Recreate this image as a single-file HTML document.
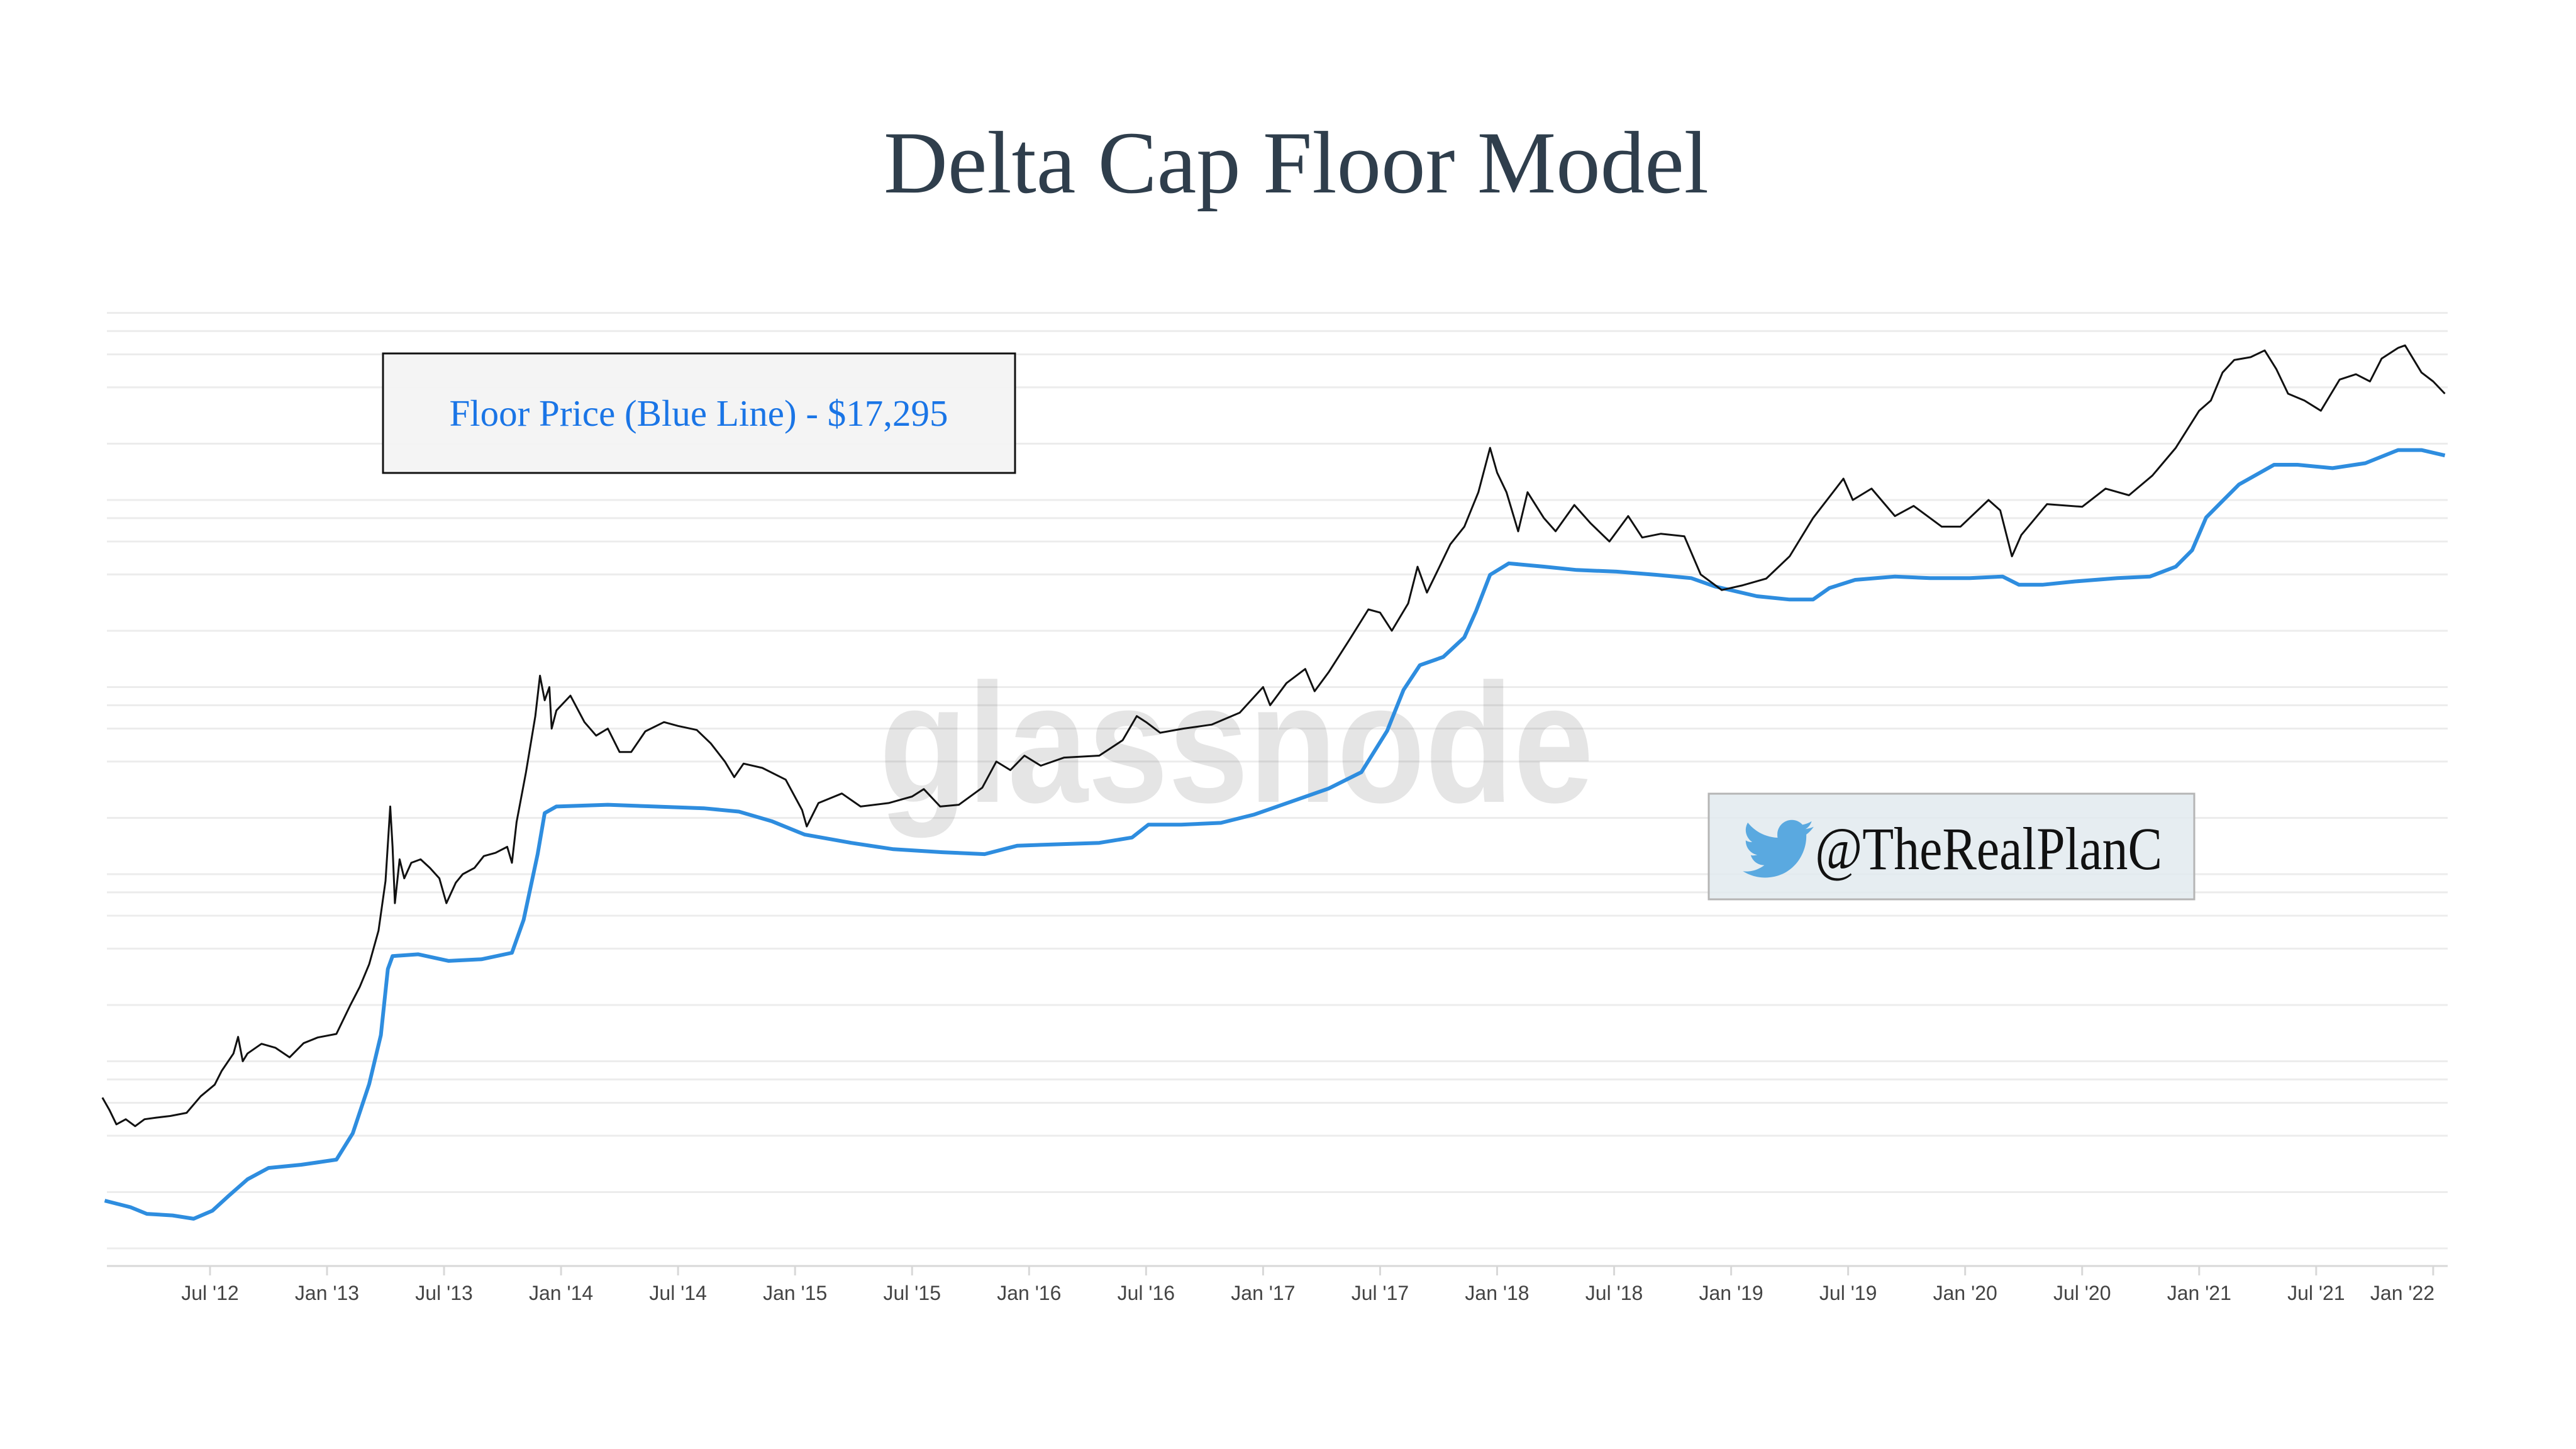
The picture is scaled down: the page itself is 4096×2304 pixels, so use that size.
<!DOCTYPE html>
<html><head><meta charset="utf-8"><style>
html,body{margin:0;padding:0;background:#fff;}
svg{display:block;}
</style></head><body>
<svg id="chart" width="4096" height="2304" viewBox="0 0 4096 2304" xmlns="http://www.w3.org/2000/svg">
<rect width="4096" height="2304" fill="#fff"/>
<text x="2061" y="306" text-anchor="middle" font-family="Liberation Serif, serif" font-size="141" fill="#2f3e4c">Delta Cap Floor Model</text>
<g id="grid"></g>
<line x1="170" x2="3892" y1="2013" y2="2013" stroke="#d8d8d8" stroke-width="3"/>
<g id="xticks"></g>
<text x="1966" y="1275" text-anchor="middle" font-family="Liberation Sans, sans-serif" font-weight="bold" font-size="270" textLength="1136" lengthAdjust="spacingAndGlyphs" fill="#000" fill-opacity="0.1">glassnode</text>
<g id="series"></g>
<g>
<rect x="609" y="562" width="1005" height="190" fill="#f3f3f3" fill-opacity="0.92" stroke="#111" stroke-width="3"/>
<text x="1111" y="677" text-anchor="middle" font-family="Liberation Serif, serif" font-size="59" fill="#1a75e6">Floor Price (Blue Line) - $17,295</text>
</g>
<g>
<rect x="2717" y="1262" width="772" height="168" fill="#e2eaee" fill-opacity="0.85" stroke="#b5b5b5" stroke-width="3"/>
<g transform="translate(2773,1293) scale(4.7)">
<path fill="#5aa9e0" d="M23.6 4.6c-.9.4-1.8.6-2.8.8 1-.6 1.8-1.6 2.1-2.7-.9.6-2 1-3.1 1.2-.9-1-2.2-1.6-3.6-1.6-2.7 0-4.9 2.2-4.9 4.9 0 .4 0 .8.1 1.1C7.3 8.1 3.7 6.2 1.3 3.2.9 3.9.6 4.8.6 5.7c0 1.7.9 3.2 2.2 4.1-.8 0-1.6-.2-2.2-.6v.1c0 2.4 1.7 4.4 3.9 4.8-.4.1-.8.2-1.3.2-.3 0-.6 0-.9-.1.6 2 2.4 3.4 4.6 3.4-1.7 1.3-3.8 2.1-6.1 2.1-.4 0-.8 0-1.2-.1 2.2 1.4 4.8 2.2 7.5 2.2 9.1 0 14-7.5 14-14v-.6c1-.7 1.8-1.6 2.5-2.6z"/>
</g>
<text x="2886" y="1382" font-family="Liberation Serif, serif" font-size="96" fill="#111" textLength="552" lengthAdjust="spacingAndGlyphs">@TheRealPlanC</text>
</g>
</svg>
<script>
// ---- data ----
const tickYears = [2012.5,2013,2013.5,2014,2014.5,2015,2015.5,2016,2016.5,2017,2017.5,2018,2018.5,2019,2019.5,2020,2020.5,2021,2021.5,2022];
const tickLabels = ["Jul '12","Jan '13","Jul '13","Jan '14","Jul '14","Jan '15","Jul '15","Jan '16","Jul '16","Jan '17","Jul '17","Jan '18","Jul '18","Jan '19","Jul '19","Jan '20","Jul '20","Jan '21","Jul '21","Jan '22"];
const gridValues = [1,2,4,6,8,10,20,40,60,80,100,200,400,600,800,1000,2000,4000,6000,8000,10000,20000,40000,60000,80000,100000];
const floorDates = [2012.05,2012.16,2012.23,2012.34,2012.43,2012.51,2012.58,2012.66,2012.75,2012.89,2013.04,2013.11,2013.18,2013.23,2013.26,2013.28,2013.39,2013.52,2013.66,2013.79,2013.84,2013.90,2013.93,2013.98,2014.20,2014.40,2014.61,2014.76,2014.90,2015.04,2015.24,2015.42,2015.63,2015.81,2015.95,2016.09,2016.30,2016.44,2016.51,2016.65,2016.82,2016.96,2017.14,2017.28,2017.42,2017.53,2017.60,2017.67,2017.77,2017.86,2017.91,2017.97,2018.05,2018.20,2018.34,2018.51,2018.68,2018.83,2018.93,2019.11,2019.25,2019.35,2019.42,2019.53,2019.70,2019.85,2020.02,2020.16,2020.23,2020.33,2020.47,2020.65,2020.79,2020.90,2020.97,2021.03,2021.10,2021.17,2021.32,2021.42,2021.57,2021.71,2021.85,2021.95,2022.05];
const floorValues = [1.80,1.66,1.53,1.50,1.44,1.59,1.91,2.34,2.69,2.80,2.98,4.12,7.55,13.8,31.1,36.5,37.3,34.4,35.1,38.0,57,128,212,230,235,230,225,216,192,163,147,136,131,128,142,144,147,157,184,184,188,208,249,287,351,583,966,1309,1449,1845,2549,3981,4585,4402,4225,4142,3981,3822,3453,3060,2938,2938,3384,3743,3899,3822,3822,3899,3524,3524,3671,3822,3899,4402,5387,8072,9883,12100,15420,15420,14790,15730,18490,18490,17295];
const priceDates = [2012.04,2012.07,2012.10,2012.14,2012.18,2012.22,2012.27,2012.33,2012.40,2012.46,2012.52,2012.55,2012.60,2012.62,2012.64,2012.66,2012.72,2012.78,2012.84,2012.90,2012.96,2013.04,2013.10,2013.14,2013.18,2013.22,2013.25,2013.27,2013.28,2013.29,2013.31,2013.33,2013.36,2013.40,2013.44,2013.48,2013.51,2013.55,2013.58,2013.63,2013.67,2013.72,2013.77,2013.79,2013.81,2013.85,2013.89,2013.91,2013.93,2013.95,2013.96,2013.98,2014.04,2014.10,2014.15,2014.20,2014.25,2014.30,2014.36,2014.44,2014.50,2014.58,2014.64,2014.70,2014.74,2014.78,2014.86,2014.96,2015.03,2015.05,2015.10,2015.20,2015.28,2015.40,2015.50,2015.55,2015.62,2015.70,2015.80,2015.86,2015.92,2015.98,2016.05,2016.15,2016.30,2016.40,2016.46,2016.50,2016.56,2016.66,2016.78,2016.90,2017.00,2017.03,2017.10,2017.18,2017.22,2017.28,2017.37,2017.45,2017.50,2017.55,2017.62,2017.66,2017.70,2017.75,2017.80,2017.86,2017.92,2017.97,2018.00,2018.04,2018.09,2018.13,2018.20,2018.25,2018.33,2018.40,2018.48,2018.56,2018.62,2018.70,2018.80,2018.87,2018.96,2019.05,2019.15,2019.25,2019.35,2019.48,2019.52,2019.60,2019.70,2019.78,2019.90,2019.98,2020.10,2020.15,2020.20,2020.24,2020.35,2020.50,2020.60,2020.70,2020.80,2020.90,2021.00,2021.05,2021.10,2021.15,2021.22,2021.28,2021.33,2021.38,2021.45,2021.52,2021.60,2021.67,2021.73,2021.78,2021.85,2021.88,2021.95,2022.00,2022.05];
const priceValues = [6.4,5.5,4.6,4.9,4.5,4.9,5.0,5.1,5.3,6.5,7.5,8.9,11,13.5,10.0,11,12.4,11.8,10.5,12.5,13.4,14,20,25,33,50,92,230,140,70,120,95,115,120,108,95,70,90,100,108,125,130,140,115,190,350,700,1150,850,1000,600,750,900,650,550,600,450,450,580,650,620,590,500,400,330,390,370,320,220,180,240,270,230,240,260,285,230,235,290,400,360,430,380,420,430,520,700,650,570,600,630,730,1000,800,1050,1250,950,1200,1800,2600,2500,2000,2800,4400,3200,4300,5800,7200,11000,19000,14000,11000,6800,11000,8000,6800,9400,7500,6000,8200,6300,6600,6400,4000,3300,3500,3800,5000,8000,13000,10000,11500,8200,9300,7200,7200,10000,8800,5000,6500,9500,9200,11500,10600,13500,19000,30000,34000,48000,56000,58000,63000,50000,37000,34000,30000,44000,47000,43000,57000,65000,67000,48000,43000,37000];

// ---- scales ----
function xScale(yr){ return 520 + (yr - 2013) * 372.1; }
function yScale(v){ return 1985 - Math.log10(v) * 297.5; }
const NS = "http://www.w3.org/2000/svg";

const grid = document.getElementById('grid');
gridValues.forEach(function(v){
  const l = document.createElementNS(NS,'line');
  l.setAttribute('x1',170); l.setAttribute('x2',3892);
  l.setAttribute('y1',yScale(v)); l.setAttribute('y2',yScale(v));
  l.setAttribute('stroke','#ececec'); l.setAttribute('stroke-width','3');
  
  
  grid.appendChild(l);
});

const xt = document.getElementById('xticks');
tickYears.forEach(function(yr,i){
  const x = xScale(yr);
  const t = document.createElementNS(NS,'line');
  t.setAttribute('x1',x); t.setAttribute('x2',x); t.setAttribute('y1',2013); t.setAttribute('y2',2028);
  t.setAttribute('stroke','#d8d8d8'); t.setAttribute('stroke-width','3');
  
  
  xt.appendChild(t);
  const tx = document.createElementNS(NS,'text');
  let lx = x;
  if (i === tickYears.length - 1) lx = Math.min(x, 3892 - 72);
  tx.setAttribute('x',lx); tx.setAttribute('y',2067);
  tx.setAttribute('text-anchor','middle');
  tx.setAttribute('font-family','Liberation Sans, sans-serif');
  tx.setAttribute('font-size','32'); tx.setAttribute('fill','#444');
  tx.textContent = tickLabels[i];
  
  
  xt.appendChild(tx);
});

function pathFrom(dates, vals){
  let d = '';
  for (let i=0;i<dates.length;i++){
    d += (i? 'L':'M') + xScale(dates[i]).toFixed(1) + ',' + yScale(vals[i]).toFixed(1);
  }
  return d;
}
const series = document.getElementById('series');
const floorPath = document.createElementNS(NS,'path');
floorPath.setAttribute('d', pathFrom(floorDates, floorValues));
floorPath.setAttribute('fill','none'); floorPath.setAttribute('stroke','#2e8ddf');
floorPath.setAttribute('stroke-width','6'); floorPath.setAttribute('stroke-linejoin','round');


series.appendChild(floorPath);
const pricePath = document.createElementNS(NS,'path');
pricePath.setAttribute('d', pathFrom(priceDates, priceValues));
pricePath.setAttribute('fill','none'); pricePath.setAttribute('stroke','#111');
pricePath.setAttribute('stroke-width','3'); pricePath.setAttribute('stroke-linejoin','round');


series.appendChild(pricePath);
</script>
</body></html>
